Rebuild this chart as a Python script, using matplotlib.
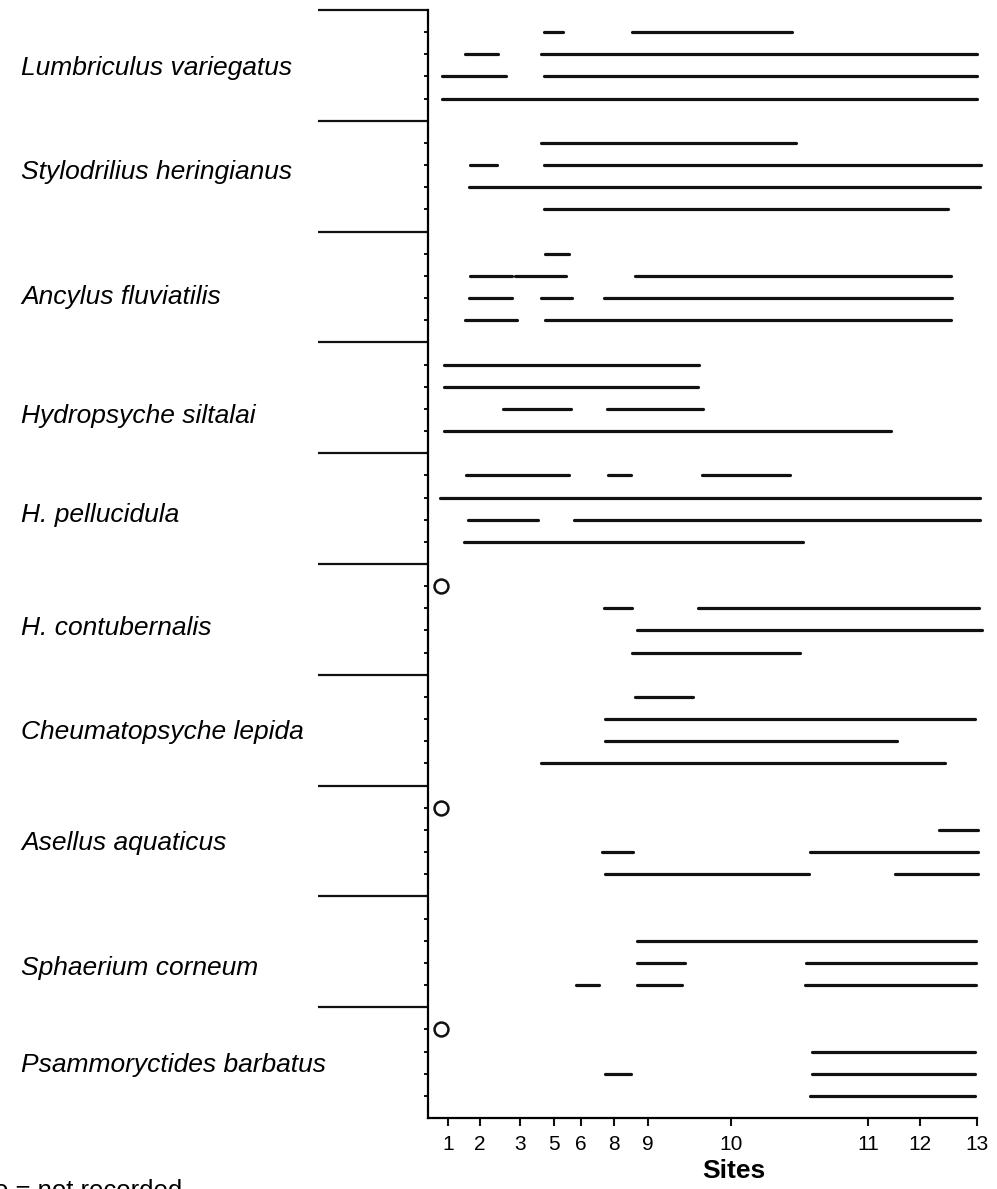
import matplotlib.pyplot as plt
import numpy as np

# species (top to bottom)
species = ["Lumbriculus variegatus", "Stylodrilius heringianus", "Ancylus fluviatilis",
           "Hydropsyche siltalai", "H. pellucidula", "H. contubernalis",
           "Cheumatopsyche lepida", "Asellus aquaticus", "Sphaerium corneum",
           "Psammoryctides barbatus"]

# site positions along the river (km from site 1) and their labels
site_km = [0, 3.2, 7.2, 10.6, 13.3, 16.6, 20.0, 28.3, 42.0, 47.2, 52.9]
site_labels = ["1", "2", "3", "5", "6", "8", "9", "10", "11", "12", "13"]

# occurrence ranges (km start, km end), four rows per species
lumbriculus = [[(9.6, 11.5), (18.4, 34.4)],
               [(1.7, 5.0), (9.3, 52.9)],
               [(-0.6, 5.8), (9.6, 52.9)],
               [(-0.6, 52.9)]]
stylodrilius = [[(9.3, 34.8)],
                [(2.2, 4.9), (9.6, 53.3)],
                [(2.1, 53.2)],
                [(9.6, 50.0)]]
ancylus = [[(9.7, 12.1)],
           [(2.2, 6.4), (6.7, 11.8), (18.7, 50.3)],
           [(2.1, 6.4), (9.3, 12.4), (15.6, 50.4)],
           [(1.7, 6.9), (9.7, 50.3)]]
siltalai = [[(-0.4, 25.1)],
            [(-0.4, 25.0)],
            [(5.5, 12.3), (15.9, 25.5)],
            [(-0.4, 44.3)]]
pellucidula = [[(1.8, 12.1), (16.0, 18.3), (25.4, 34.2)],
               [(-0.8, 53.2)],
               [(2.0, 9.0), (12.6, 53.2)],
               [(1.6, 35.5)]]
contubernalis = [[],
                 [(15.6, 18.4), (25.0, 53.1)],
                 [(18.9, 53.4)],
                 [(18.4, 35.2)]]
cheumatopsyche = [[(18.7, 24.5)],
                  [(15.7, 52.7)],
                  [(15.7, 44.9)],
                  [(9.3, 49.7)]]
asellus = [[],
           [(49.1, 53.0)],
           [(15.4, 18.5), (36.2, 53.0)],
           [(15.7, 36.1), (44.7, 53.0)]]
sphaerium = [[],
             [(18.9, 52.8)],
             [(18.9, 23.7), (35.8, 52.8)],
             [(12.8, 15.1), (18.9, 23.4), (35.7, 52.8)]]
psammoryctides = [[],
                  [(36.4, 52.7)],
                  [(15.7, 18.3), (36.4, 52.7)],
                  [(36.2, 52.7)]]
all_ranges = [lumbriculus, stylodrilius, ancylus, siltalai, pellucidula,
              contubernalis, cheumatopsyche, asellus, sphaerium, psammoryctides]

# species "not recorded" (open circle at site 1)
not_recorded = ["H. contubernalis", "Asellus aquaticus", "Psammoryctides barbatus"]

# small vertical nudges of the species names (row units, downward)
label_shift = [0.1, -0.2, 0.45, 0.8, 0.3, 0.4, 0.1, 0.1, 0.75, 0.1]

plt.rcParams['font.family'] = ['Liberation Sans', 'DejaVu Sans']

fig = plt.figure(figsize=(9.97, 11.89), dpi=100)
ax = fig.add_axes([0.4293, 0.0597, 0.5617, 0.9319])

ink = '#111111'
n = len(species)
for g, name in enumerate(species):
    top = 5 * (n - g)
    for r, row in enumerate(all_ranges[g]):
        y = top - (r + 1)
        for a, b in row:
            ax.plot([a, b], [y, y], color=ink, lw=2.3, solid_capstyle='round')
    if name in not_recorded:
        ax.plot(-0.7, top - 1, 'o', ms=10, mfc='white', mec=ink, mew=1.8, clip_on=False)

ax.set_xlim(-2.0, 54.0)
ax.set_ylim(0, 5 * n)

for s in ['top', 'right']:
    ax.spines[s].set_visible(False)
ax.spines['left'].set_linewidth(1.6)
ax.spines['bottom'].set_linewidth(1.6)
ax.spines['bottom'].set_bounds(-2.0, site_km[-1])

# long separators between species and short row ticks
ax.set_yticks(np.arange(5, 5 * n + 1, 5))
ax.set_yticklabels([])
ax.set_yticks([v for v in range(1, 5 * n) if v % 5], minor=True)
ax.tick_params(axis='y', which='major', direction='out', length=79, width=1.6, color=ink)
ax.tick_params(axis='y', which='minor', direction='out', length=3, width=1.4, color=ink)

ax.set_xticks(site_km)
ax.set_xticklabels(site_labels)
ax.tick_params(axis='x', direction='out', length=6, width=1.5, color=ink,
               labelsize=15, pad=6)

ax.set_xlabel("Sites", fontsize=19, fontweight='bold')
ax.xaxis.set_label_coords(0.546, -0.037)

for g, name in enumerate(species):
    yc = 5 * (n - g) - 2.5 - label_shift[g]
    ax.text(-0.727, yc, name, transform=ax.get_yaxis_transform(), fontsize=19,
            style='italic', ha='left', va='center')

fig.text(-0.006, 0.0084, "o = not recorded", fontsize=18.5, ha='left', va='top')

fig.savefig("out.png", dpi=100)
